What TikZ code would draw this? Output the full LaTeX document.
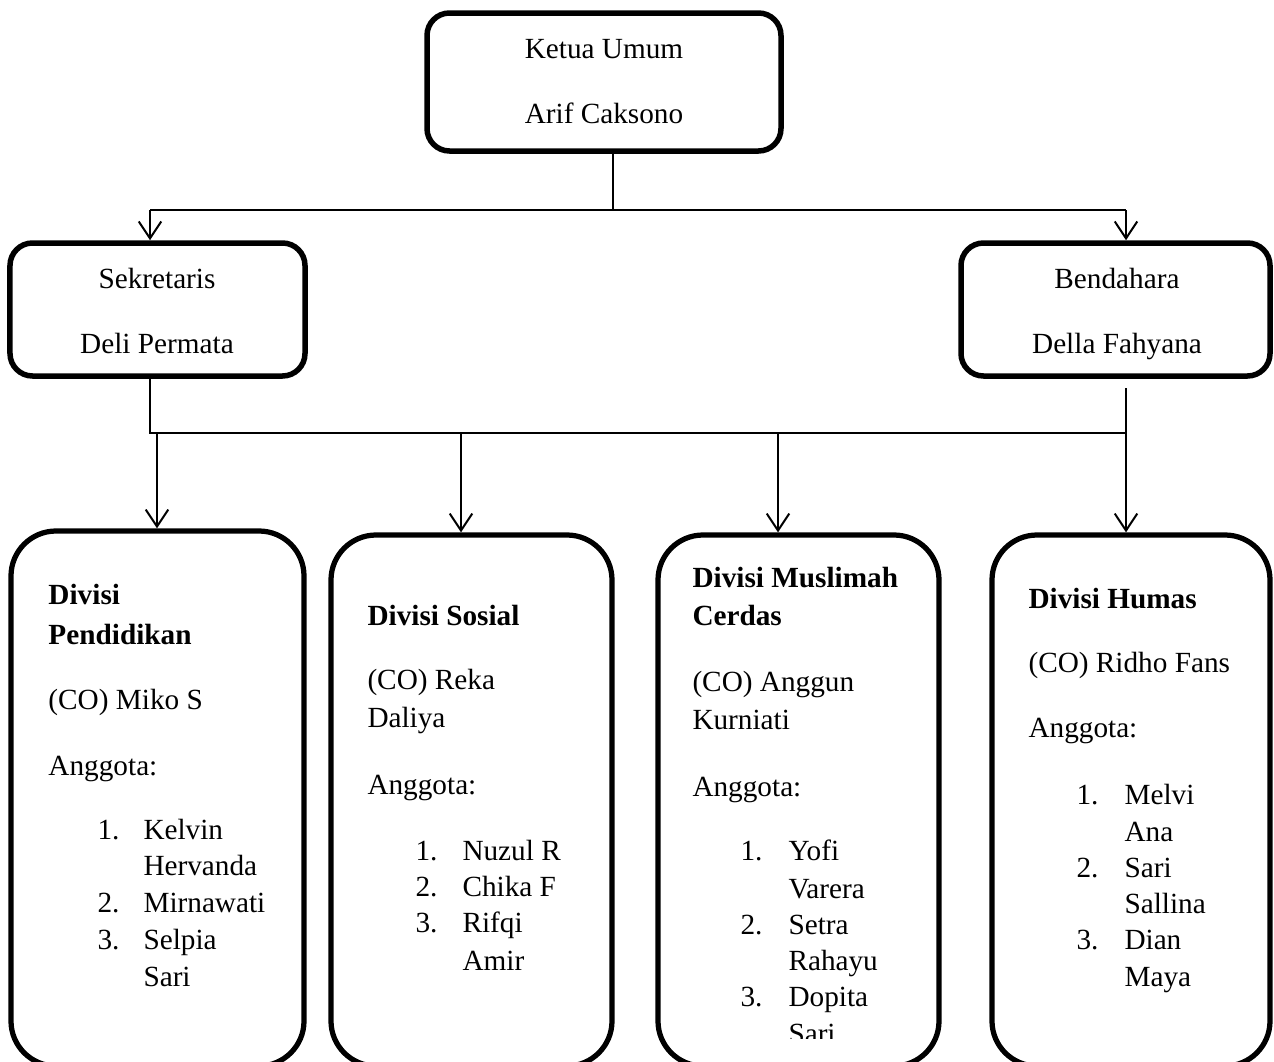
\documentclass[tikz,border=0pt]{standalone}
\usepackage{fontspec}
\setmainfont{Liberation Serif}
\usetikzlibrary{arrows.meta}
\begin{document}
\begin{tikzpicture}[x=0.4pt,y=-0.4pt,
  topbox/.style={draw, line width=2.2pt, rounded corners=9pt, inner sep=0pt},
  divbox/.style={draw, line width=2.1pt, rounded corners=18pt, inner sep=0pt},
  wire/.style={line width=0.8pt},
  arr/.style={line width=0.8pt, -{Straight Barb[length=6.8pt,width=9pt]}},
  ct/.style={anchor=base, inner sep=0pt, font=\fontsize{11.7}{14}\selectfont},
  lt/.style={anchor=base west, inner sep=0pt, font=\fontsize{11.7}{14}\selectfont},
  bt/.style={anchor=base west, inner sep=0pt, font=\fontsize{11.7}{14}\selectfont\bfseries}]
\useasboundingbox (0,0) rectangle (1274,1061);
\clip (0,0) rectangle (1274,1061);

% boxes
\node[topbox, minimum width=141.6pt, minimum height=55.2pt] (ketua) at (604,82) {};
\node[topbox, minimum width=118pt, minimum height=53.2pt] (sek) at (157.5,309.5) {};
\node[topbox, minimum width=123.6pt, minimum height=53.2pt] (bend) at (1115.5,309.5) {};
\node[divbox, minimum width=117.2pt, minimum height=214pt] (pend) at (157.5,798.5) {};
\node[divbox, minimum width=112.4pt, minimum height=212.4pt] (sos) at (471.5,800.5) {};
\node[divbox, minimum width=112.4pt, minimum height=212.4pt] (mus) at (798.5,800.5) {};
\node[divbox, minimum width=111.2pt, minimum height=212.4pt] (hum) at (1131,800.5) {};

% top connectors
\coordinate (tj) at (613,210);
\coordinate (tl) at (150,210);
\coordinate (tr) at (1126,210);
\draw[wire] (ketua.south -| tj) -- (tj);
\draw[wire] (tl) -- (tr);
\draw[arr] (tl) -- (tl |- sek.north);
\draw[arr] (tr) -- (tr |- bend.north);

% lower connectors
\coordinate (bl) at (150,433);
\coordinate (br) at (1126,433);
\coordinate (bs) at (1126,388);
\coordinate (d1) at (157,433);
\coordinate (d2) at (461,433);
\coordinate (d3) at (778,433);
\draw[wire] (sek.south -| bl) -- (bl) -- (br);
\draw[wire] (bs) -- (br);
\draw[arr] (d1) -- (d1 |- pend.north);
\draw[arr] (d2) -- (d2 |- sos.north);
\draw[arr] (d3) -- (d3 |- mus.north);
\draw[arr] (br) -- (br |- hum.north);

% top texts
\node[ct] (k1) at (604,58) {Ketua Umum};
\node[ct] (k2) at (604,123) {Arif Caksono};
\node[ct] (s1) at (157,288) {Sekretaris};
\node[ct] (s2) at (157,353) {Deli Permata};
\node[ct] (b1) at (1117,288) {Bendahara};
\node[ct] (b2) at (1117,353) {Della Fahyana};

% Divisi Pendidikan
\node[bt] (p1) at (48,604) {Divisi};
\node[bt] (p2) at (48,644) {Pendidikan};
\node[lt] (p3) at (48,709) {(CO) Miko S};
\node[lt] (p4) at (48,775) {Anggota:};
\node[lt] (p5n) at (97,839) {1.};
\node[lt] (p5) at (143,839) {Kelvin};
\node[lt] (p6) at (143,875) {Hervanda};
\node[lt] (p7n) at (97,912) {2.};
\node[lt] (p7) at (143,912) {Mirnawati};
\node[lt] (p8n) at (97,949) {3.};
\node[lt] (p8) at (143,949) {Selpia};
\node[lt] (p9) at (143,986) {Sari};

% Divisi Sosial
\node[bt] (o1) at (367,625) {Divisi Sosial};
\node[lt] (o2) at (367,689) {(CO) Reka};
\node[lt] (o3) at (367,727) {Daliya};
\node[lt] (o4) at (367,794) {Anggota:};
\node[lt] (o5n) at (415,860) {1.};
\node[lt] (o5) at (462,860) {Nuzul R};
\node[lt] (o6n) at (415,896) {2.};
\node[lt] (o6) at (462,896) {Chika F};
\node[lt] (o7n) at (415,932) {3.};
\node[lt] (o7) at (462,932) {Rifqi};
\node[lt] (o8) at (462,970) {Amir};

% Divisi Muslimah Cerdas
\node[bt] (m1) at (692,587) {Divisi Muslimah};
\node[bt] (m2) at (692,625) {Cerdas};
\node[lt] (m3) at (692,691) {(CO) Anggun};
\node[lt] (m4) at (692,729) {Kurniati};
\node[lt] (m5) at (692,796) {Anggota:};
\node[lt] (m6n) at (740,860) {1.};
\node[lt] (m6) at (788,860) {Yofi};
\node[lt] (m7) at (788,898) {Varera};
\node[lt] (m8n) at (740,934) {2.};
\node[lt] (m8) at (788,934) {Setra};
\node[lt] (m9) at (788,970) {Rahayu};
\node[lt] (m10n) at (740,1006) {3.};
\node[lt] (m10) at (788,1006) {Dopita};
\begin{scope}
  \clip (700,1010) rectangle (920,1038);
  \node[lt] (m11) at (788,1043) {Sari};
\end{scope}

% Divisi Humas
\node[bt] (h1) at (1028,608) {Divisi Humas};
\node[lt] (h2) at (1028,672) {(CO) Ridho Fans};
\node[lt] (h3) at (1028,737) {Anggota:};
\node[lt] (h4n) at (1076,804) {1.};
\node[lt] (h4) at (1124,804) {Melvi};
\node[lt] (h5) at (1124,841) {Ana};
\node[lt] (h6n) at (1076,877) {2.};
\node[lt] (h6) at (1124,877) {Sari};
\node[lt] (h7) at (1124,913) {Sallina};
\node[lt] (h8n) at (1076,949) {3.};
\node[lt] (h8) at (1124,949) {Dian};
\node[lt] (h9) at (1124,986) {Maya};
\end{tikzpicture}
\end{document}
